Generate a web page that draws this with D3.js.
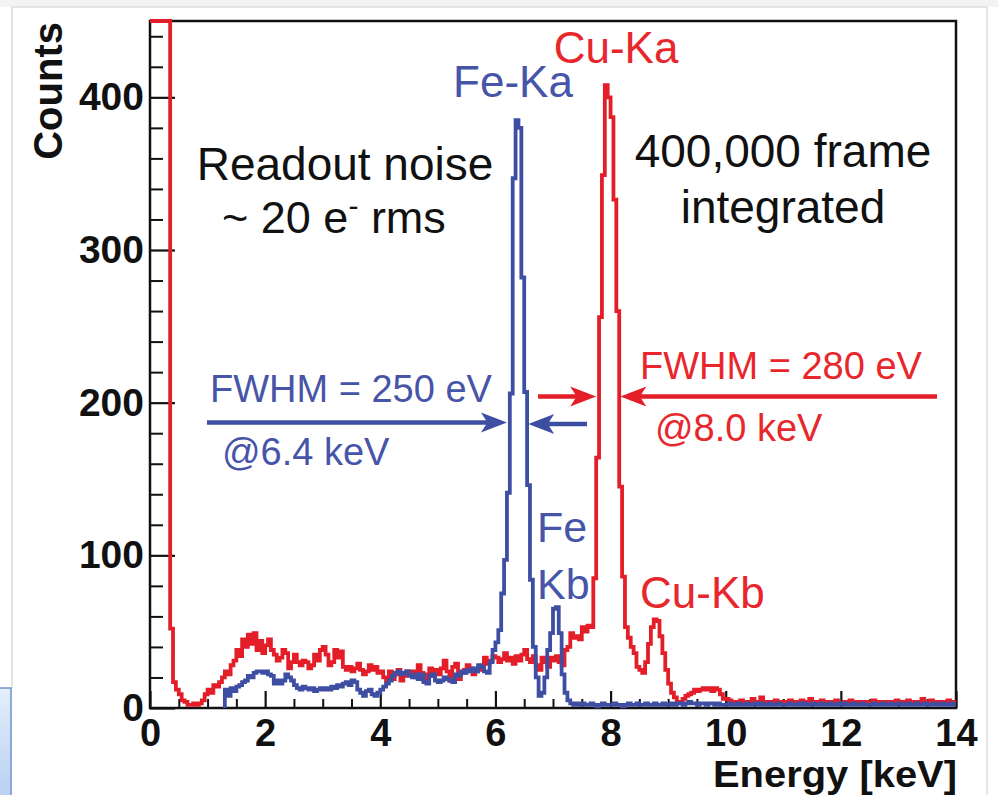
<!DOCTYPE html>
<html>
<head>
<meta charset="utf-8">
<script src="https://cdn.jsdelivr.net/npm/d3@7"></script>
<style>
  body { margin: 0; background: #fff; }
  svg text { font-family: "Liberation Sans", Arial, Helvetica, sans-serif; }
</style>
</head>
<body>
<div id="graph"></div>
<script>
// histogram bins are 0.05 keV wide
const binWidth = 0.05;

// Cu target spectrum (red), starts at 0 keV
const redStart = 0;
const redCounts = [
  3000, 2600, 2100, 1600, 1200, 900, 650, 52, 17, 12, 9, 5, 4, 2, 2, 3, 2, 3, 5, 9,
  12, 10, 15, 14, 17, 20, 24, 22, 28, 31, 38, 34, 45, 40, 48, 42, 49, 38, 44, 36,
  41, 45, 38, 35, 31, 33, 38, 36, 26, 30, 35, 30, 28, 31, 30, 26, 28, 35, 31, 38,
  40, 35, 28, 30, 38, 33, 37, 27, 25, 27, 24, 26, 29, 25, 22, 24, 28, 25, 27, 23,
  24, 20, 18, 24, 19, 22, 25, 18, 21, 24, 22, 24, 20, 28, 23, 18, 22, 26, 21, 25,
  22, 26, 31, 24, 18, 27, 29, 19, 23, 25, 28, 26, 22, 24, 27, 25, 33, 29, 31, 34,
  33, 30, 32, 36, 31, 33, 29, 34, 31, 35, 38, 32, 30, 34, 28, 25, 33, 30, 27, 33,
  31, 34, 30, 28, 38, 40, 49, 46, 47, 45, 53, 50, 54, 53, 85, 164, 256, 349, 408, 400,
  387, 333, 260, 145, 86, 53, 46, 40, 36, 27, 25, 23, 30, 42, 53, 58, 57, 47, 36, 25,
  16, 10, 7, 4, 4, 6, 8, 9, 10, 12, 11, 12, 13, 12, 13, 11, 13, 12, 9, 6,
  6, 5, 4, 4, 3, 5, 4, 3, 4, 6, 4, 3, 7, 4, 3, 4, 3, 5, 4, 3,
  4, 3, 5, 4, 3, 4, 5, 3, 4, 6, 4, 3, 4, 5, 3, 4, 3, 4, 5, 3,
  3, 4, 3, 5, 4, 3, 4, 3, 4, 3, 4, 5, 3, 4, 3, 4, 3, 4, 3, 5,
  4, 3, 4, 5, 3, 4, 3, 4, 6, 4, 3, 5, 4, 3, 4, 3, 4, 5, 3, 4
];

// Fe-55 source spectrum (blue), starts at 1.3 keV
const blueStart = 1.3;
const blueCounts = [
  12, 8, 13, 11, 14, 15, 17, 18, 21, 20, 23, 24, 24, 23,
  24, 22, 21, 16, 18, 16, 18, 22, 20, 18, 15, 13, 12, 14, 13, 12, 13, 11, 12, 13,
  12, 13, 12, 14, 13, 15, 14, 16, 17, 15, 18, 17, 12, 10, 8, 11, 12, 9, 8, 10,
  12, 14, 16, 18, 21, 23, 24, 22, 23, 24, 21, 20, 22, 19, 22, 17, 16, 21, 22, 18,
  17, 18, 20, 19, 18, 17, 22, 21, 24, 23, 25, 24, 26, 24, 28, 27, 24, 23, 30, 38,
  43, 51, 75, 97, 141, 206, 347, 385, 380, 282, 207, 146, 84, 40, 20, 8, 10, 20, 38, 49,
  65, 66, 49, 22, 10, 5, 3, 2, 3, 2, 3, 2, 2, 3, 2, 1, 2, 3, 2, 2,
  2, 3, 2, 2, 1, 2, 3, 2, 2, 3, 2, 2, 3, 2, 2, 3, 2, 2, 3, 2,
  2, 3, 2, 3, 3, 2, 3, 4, 3, 3, 2, 3, 3, 2, 3, 3, 2, 3, 2, 2,
  2, 3, 2, 2, 3, 2, 2, 3, 2, 2, 3, 2, 3, 2, 2, 3, 2, 2, 3, 2,
  2, 2, 3, 2, 2, 3, 2, 3, 2, 2, 3, 2, 2, 3, 2, 2, 3, 2, 2, 3,
  2, 3, 2, 2, 3, 2, 2, 3, 2, 2, 2, 3, 2, 2, 3, 2, 2, 3, 2, 2,
  3, 2, 2, 3, 2, 2, 3, 2, 2, 3, 2, 2, 3, 2, 2, 3, 2, 2, 3, 2
];

const xTicks = [0, 2, 4, 6, 8, 10, 12, 14];
const xMinorTicks = [0.5, 1, 1.5, 2.5, 3, 3.5, 4.5, 5, 5.5, 6.5, 7, 7.5, 8.5, 9, 9.5, 10.5, 11, 11.5, 12.5, 13, 13.5];
const yTicks = [0, 100, 200, 300, 400];
const yMinorTicks = [20, 40, 60, 80, 120, 140, 160, 180, 220, 240, 260, 280, 320, 340, 360, 380, 420, 440];

// FWHM arrows: [from keV, tip keV, counts]
const blueArrows = [[0.99, 6.20, 187], [7.59, 6.57, 186]];
const redArrows = [[6.74, 7.75, 204], [13.67, 8.17, 204]];

const red = "#e41e29", blue = "#3e4fa3";
const redText = "#e8272d", blueText = "#4755a8";

let width = 998, height = 795;
let margin = {top: 21, right: 42, bottom: 87, left: 150};

let svg = d3.select("#graph")
    .append("svg")
    .attr("width", width)
    .attr("height", height);

// slide background bits around the figure
svg.append("rect").attr("x", 0).attr("y", 0).attr("width", width).attr("height", 7).attr("fill", "#f3f3f3");
svg.append("line").attr("x1", 12).attr("x2", 987).attr("y1", 7).attr("y2", 7).attr("stroke", "#dcdcdc").attr("stroke-width", 1.5);
svg.append("line").attr("x1", 12).attr("x2", 12).attr("y1", 7).attr("y2", 688).attr("stroke", "#dcdcdc").attr("stroke-width", 1.5);
svg.append("line").attr("x1", 987).attr("x2", 987).attr("y1", 7).attr("y2", height).attr("stroke", "#dcdcdc").attr("stroke-width", 1.5);
let grad = svg.append("defs").append("linearGradient").attr("id", "sideBox").attr("x1", 0).attr("x2", 0).attr("y1", 0).attr("y2", 1);
grad.append("stop").attr("offset", "0%").attr("stop-color", "#e4eefb");
grad.append("stop").attr("offset", "100%").attr("stop-color", "#b9d0f2");
svg.append("rect").attr("x", -2).attr("y", 688).attr("width", 13).attr("height", 110)
    .attr("fill", "url(#sideBox)").attr("stroke", "#6f93c8").attr("stroke-width", 1.5);

let x = d3.scaleLinear().domain([0, 14]).range([margin.left, width - margin.right]);
let y = d3.scaleLinear().domain([0, 450]).range([height - margin.bottom, margin.top]).clamp(true);

// frame
svg.append("rect")
    .attr("x", x(0)).attr("y", y(450))
    .attr("width", x(14) - x(0)).attr("height", y(0) - y(450))
    .attr("fill", "none").attr("stroke", "#111").attr("stroke-width", 2.5);

// ticks
function styleAxis(g, size, w) {
  g.select(".domain").remove();
  g.selectAll(".tick line").attr("stroke", "#111").attr("stroke-width", w);
  g.selectAll(".tick text").attr("fill", "#111").style("font-size", size + "px").style("font-weight", "bold");
}
svg.append("g").attr("transform", `translate(${x(0)},0)`)
    .call(d3.axisLeft(y).tickValues(yMinorTicks).tickSize(-13).tickFormat(""))
    .call(g => styleAxis(g, 39, 2));
svg.append("g").attr("transform", `translate(${x(0)},0)`)
    .call(d3.axisLeft(y).tickValues(yTicks).tickSize(-25).tickPadding(6))
    .call(g => styleAxis(g, 39, 2.2));
svg.append("g").attr("transform", `translate(0,${y(0)})`)
    .call(d3.axisBottom(x).tickValues(xMinorTicks).tickSize(-9).tickFormat(""))
    .call(g => styleAxis(g, 39, 2));
svg.append("g").attr("transform", `translate(0,${y(0)})`)
    .call(d3.axisBottom(x).tickValues(xTicks).tickSize(-17).tickPadding(11))
    .call(g => styleAxis(g, 38, 2.2));

// histograms as steps
function stepPoints(start, counts, fromZero) {
  let pts = fromZero ? [[start, 0]] : [];
  counts.forEach((c, i) => pts.push([start + i * binWidth, c]));
  pts.push([start + counts.length * binWidth, counts[counts.length - 1]]);
  return pts;
}
let line = d3.line()
    .x(d => x(d[0]))
    .y(d => y(d[1]))
    .curve(d3.curveStepAfter);

svg.append("path").datum(stepPoints(redStart, redCounts, false))
    .attr("d", line).attr("fill", "none").attr("stroke", red).attr("stroke-width", 3.8);
svg.append("path").datum(stepPoints(blueStart, blueCounts, true))
    .attr("d", line).attr("fill", "none").attr("stroke", blue).attr("stroke-width", 3.8);

// axis titles
svg.append("text")
    .attr("transform", `translate(62, ${y(450) + 1}) rotate(-90)`)
    .style("text-anchor", "end").style("font-size", "40px").style("font-weight", "bold")
    .attr("fill", "#111").text("Counts");
svg.append("text")
    .attr("x", 957).attr("y", 787)
    .attr("textLength", 244).attr("lengthAdjust", "spacingAndGlyphs")
    .style("text-anchor", "end").style("font-size", "36px").style("font-weight", "bold")
    .attr("fill", "#111").text("Energy [keV]");

// arrows
function arrow(a, color) {
  let x0 = x(a[0]), x1 = x(a[1]), yy = y(a[2]);
  let dir = x1 > x0 ? 1 : -1;
  let head = 26, half = 10;
  svg.append("line")
      .attr("x1", x0).attr("x2", x1 - dir * head * 0.6)
      .attr("y1", yy).attr("y2", yy)
      .attr("stroke", color).attr("stroke-width", 4.5);
  svg.append("path")
      .attr("d", `M${x1},${yy} L${x1 - dir * head},${yy - half} L${x1 - dir * head * 0.75},${yy} L${x1 - dir * head},${yy + half} Z`)
      .attr("fill", color);
}
blueArrows.forEach(a => arrow(a, blue));
redArrows.forEach(a => arrow(a, red));

// labels
function label(tx, ty, str, color, size, anchor) {
  return svg.append("text")
      .attr("x", tx).attr("y", ty)
      .style("text-anchor", anchor || "start")
      .style("font-size", size + "px")
      .attr("fill", color).text(str);
}
label(513, 97, "Fe-Ka", blueText, 44, "middle");
label(616, 63, "Cu-Ka", redText, 44, "middle");
label(345, 180, "Readout noise", "#111", 46, "middle");
let noise = label(222, 233, "~ 20 e", "#111", 45);
noise.append("tspan").attr("dy", -17).style("font-size", "30px").text("-");
noise.append("tspan").attr("dy", 17).text(" rms");
label(783, 167, "400,000 frame", "#111", 46, "middle");
label(783, 223, "integrated", "#111", 46, "middle");
label(210, 402, "FWHM = 250 eV", blueText, 38);
label(222, 465, "@6.4 keV", blueText, 38);
label(640, 379, "FWHM = 280 eV", redText, 38);
label(655, 441, "@8.0 keV", redText, 38);
label(537, 542, "Fe", blueText, 43);
label(537, 599, "Kb", blueText, 43);
label(640, 608, "Cu-Kb", redText, 44);
</script>
</body>
</html>
